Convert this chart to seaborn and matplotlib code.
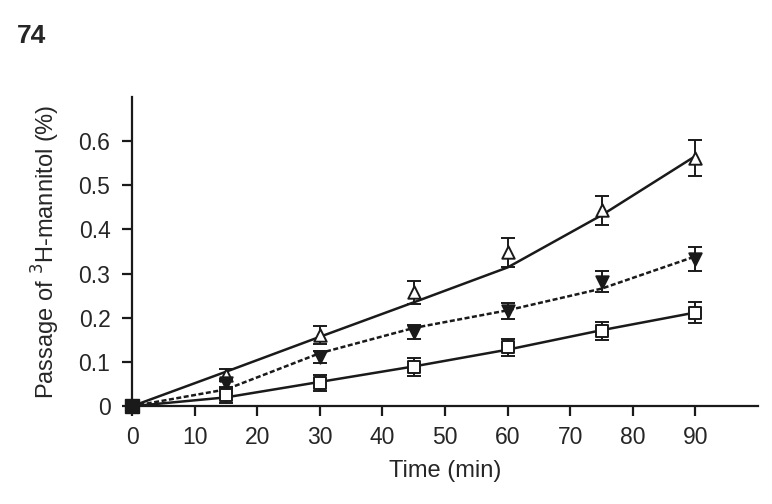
import pandas as pd
import numpy as np
import matplotlib.pyplot as plt
import seaborn as sns
from matplotlib.ticker import FuncFormatter

# Time points (min)
time = [0, 15, 30, 45, 60, 75, 90]

tri_mean = [0.0, 0.070, 0.161, 0.258, 0.348, 0.443, 0.561]
tri_err = [0.0, 0.014, 0.021, 0.026, 0.033, 0.033, 0.041]
inv_mean = [0.0, 0.052, 0.112, 0.167, 0.216, 0.282, 0.333]
inv_err = [0.0, 0.010, 0.014, 0.016, 0.018, 0.024, 0.027]
sq_mean = [0.0, 0.025, 0.053, 0.088, 0.133, 0.170, 0.212]
sq_err = [0.0, 0.018, 0.018, 0.020, 0.020, 0.020, 0.024]

# Fitted curves drawn through the data
tri_fit = [0.0, 0.078, 0.157, 0.235, 0.314, 0.432, 0.566]
inv_fit = [0.0, 0.038, 0.120, 0.177, 0.217, 0.266, 0.339]
sq_fit = [0.0, 0.020, 0.055, 0.090, 0.128, 0.172, 0.212]

sns.set_style("ticks")
plt.rcParams['font.family'] = ['Liberation Sans', 'DejaVu Sans']

fig = plt.figure(figsize=(7.72, 5.04), dpi=100)
ax = fig.add_axes([0.171, 0.194, 0.811, 0.614])

fits = pd.DataFrame({'time': time * 3,
                     'value': tri_fit + inv_fit + sq_fit,
                     'group': ['tri'] * 7 + ['inv'] * 7 + ['sq'] * 7})
sns.lineplot(data=fits, x='time', y='value', hue='group', style='group',
             palette={'tri': '#1a1a1a', 'inv': '#1a1a1a', 'sq': '#1a1a1a'},
             dashes={'tri': '', 'inv': (2, 1), 'sq': ''},
             linewidth=1.8, legend=False, ax=ax, zorder=2)

# error bars and markers
for mean, err, mk, fc in [(tri_mean, tri_err, '^', 'white'),
                          (inv_mean, inv_err, 'v', '#1a1a1a'),
                          (sq_mean, sq_err, 's', 'white')]:
    ax.errorbar(time[1:], mean[1:], yerr=err[1:], fmt='none', ecolor='#1a1a1a',
                elinewidth=1.4, capsize=5, capthick=1.4, zorder=3)
    sns.scatterplot(x=time[1:], y=mean[1:], marker=mk, s=80, color=fc,
                    edgecolor='#1a1a1a', linewidth=1.4, ax=ax, zorder=4)

# shared origin point
ax.plot([0], [0], marker='s', markersize=10, color='#1a1a1a', clip_on=False, zorder=5)

ax.set_xlim(0, 100)
ax.set_ylim(0, 0.7)
ax.set_xticks(range(0, 91, 10))
ax.set_yticks(np.arange(0, 0.61, 0.1))
ax.yaxis.set_major_formatter(FuncFormatter(lambda v, p: '0' if v == 0 else f'{v:.1f}'))
ax.tick_params(axis='both', labelsize=16.5, direction='out', length=7.5, width=1.6,
               color='#1a1a1a')
ax.tick_params(axis='y', pad=8)
ax.tick_params(axis='x', pad=6.5)
for s in ['left', 'bottom']:
    ax.spines[s].set_linewidth(1.6)
    ax.spines[s].set_color('#1a1a1a')
sns.despine(ax=ax)

ax.set_xlabel('Time (min)', fontsize=17, labelpad=8)
ax.set_ylabel('Passage of $^{3}$H-mannitol (%)', fontsize=17, labelpad=12)

fig.text(0.022, 0.915, '74', fontsize=19, fontweight='bold')

fig.savefig('out.png', dpi=100)
